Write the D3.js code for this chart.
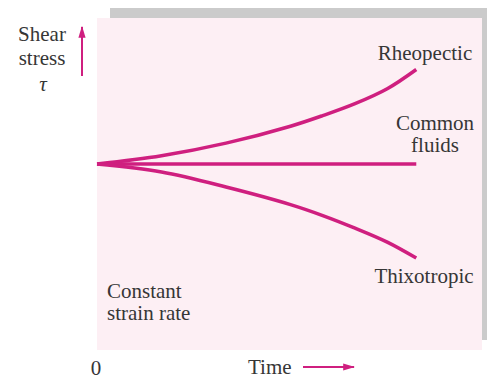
<!DOCTYPE html>
<html>
<head>
<meta charset="utf-8">
<script src="https://cdn.jsdelivr.net/npm/d3@7"></script>
<style>
	body { margin: 0; background: #fff; }
	svg text { font-family: "Liberation Serif", "DejaVu Serif", serif; fill: #363636; }
</style>
</head>
<body>
<div id="chart"></div>
<script>
// Data (arbitrary units)
const times = [0, 2, 4, 6, 7, 8, 9, 9.9];
const rheopectic = [5.6, 5.85, 6.23, 6.74, 7.06, 7.42, 7.87, 8.45];
const commonFluids = [5.6, 5.6, 5.6, 5.6, 5.6, 5.6, 5.6, 5.6];
const thixotropic = [5.6, 5.36, 4.91, 4.38, 4.05, 3.67, 3.25, 2.77];

const seriesNames = ["Rheopectic", "Common fluids", "Thixotropic"];
const seriesValues = [rheopectic, commonFluids, thixotropic];

const width = 489, height = 380;
const plot = { left: 97, right: 484, top: 18, bottom: 350 };
const lineColor = "#cf1f7f";
const fontSize = "21px";

const svg = d3.select("#chart")
	.append("svg")
	.attr("width", width)
	.attr("height", height);

const x = d3.scaleLinear().domain([0, 12]).range([plot.left, plot.right]);
const y = d3.scaleLinear().domain([0, 10]).range([plot.bottom, plot.top]);

// panel with grey "shadow" on top and right
svg.append("rect")
	.attr("x", plot.left + 13).attr("y", plot.top - 10)
	.attr("width", plot.right + 3 - plot.left - 13).attr("height", 10)
	.attr("fill", "#cbcbcb");
svg.append("rect")
	.attr("x", plot.right - 2).attr("y", plot.top - 10)
	.attr("width", 5).attr("height", 332)
	.attr("fill", "#cbcbcb");
svg.append("rect")
	.attr("x", plot.left).attr("y", plot.top)
	.attr("width", plot.right - 2 - plot.left).attr("height", plot.bottom - plot.top)
	.attr("fill", "#fdeff4");

const line = d3.line()
	.x(d => x(d[0]))
	.y(d => y(d[1]))
	.curve(d3.curveCatmullRom);

svg.selectAll(".series")
	.data(seriesValues)
	.enter()
	.append("path")
	.attr("class", "series")
	.attr("d", vals => line(times.map((t, i) => [t, vals[i]])))
	.attr("fill", "none")
	.attr("stroke", lineColor)
	.attr("stroke-width", 3.5)
	.attr("stroke-linecap", "butt");

// series labels
const labels = [
	{ lines: ["Rheopectic"], x: 425, y: 60 },
	{ lines: ["Common", "fluids"], x: 435, y: 130 },
	{ lines: ["Thixotropic"], x: 424, y: 283 },
	{ lines: ["Constant", "strain rate"], x: 107, y: 298, anchor: "start" }
];
labels.forEach(l => {
	const t = svg.append("text")
		.attr("x", l.x).attr("y", l.y)
		.attr("text-anchor", l.anchor || "middle")
		.style("font-size", fontSize);
	l.lines.forEach((s, i) => {
		t.append("tspan").attr("x", l.x).attr("dy", i ? 22 : 0).text(s);
	});
});

// axis titles
const yTitle = svg.append("text")
	.attr("x", 42).attr("y", 41)
	.attr("text-anchor", "middle")
	.style("font-size", fontSize);
yTitle.append("tspan").attr("x", 42).text("Shear");
yTitle.append("tspan").attr("x", 42).attr("dy", 24).text("stress");
svg.append("text")
	.attr("x", 43).attr("y", 91)
	.attr("text-anchor", "middle")
	.style("font-size", fontSize)
	.style("font-style", "italic")
	.text("τ");

svg.append("text")
	.attr("x", x(0) - 1).attr("y", 375)
	.attr("text-anchor", "middle")
	.style("font-size", fontSize)
	.text("0");

svg.append("text")
	.attr("x", 248).attr("y", 374)
	.style("font-size", fontSize)
	.text("Time");

// arrows
svg.append("defs").append("marker")
	.attr("id", "head")
	.attr("viewBox", "0 0 10 10")
	.attr("refX", 9).attr("refY", 5)
	.attr("markerWidth", 6).attr("markerHeight", 6)
	.attr("markerUnits", "strokeWidth")
	.attr("orient", "auto")
	.append("path")
	.attr("d", "M0,2 L10,5 L0,8 Z")
	.attr("fill", lineColor);

svg.append("line")
	.attr("x1", 82).attr("y1", 76).attr("x2", 82).attr("y2", 27)
	.attr("stroke", lineColor).attr("stroke-width", 2)
	.attr("marker-end", "url(#head)");

svg.append("line")
	.attr("x1", 303).attr("y1", 367).attr("x2", 354).attr("y2", 367)
	.attr("stroke", lineColor).attr("stroke-width", 2)
	.attr("marker-end", "url(#head)");
</script>
</body>
</html>
